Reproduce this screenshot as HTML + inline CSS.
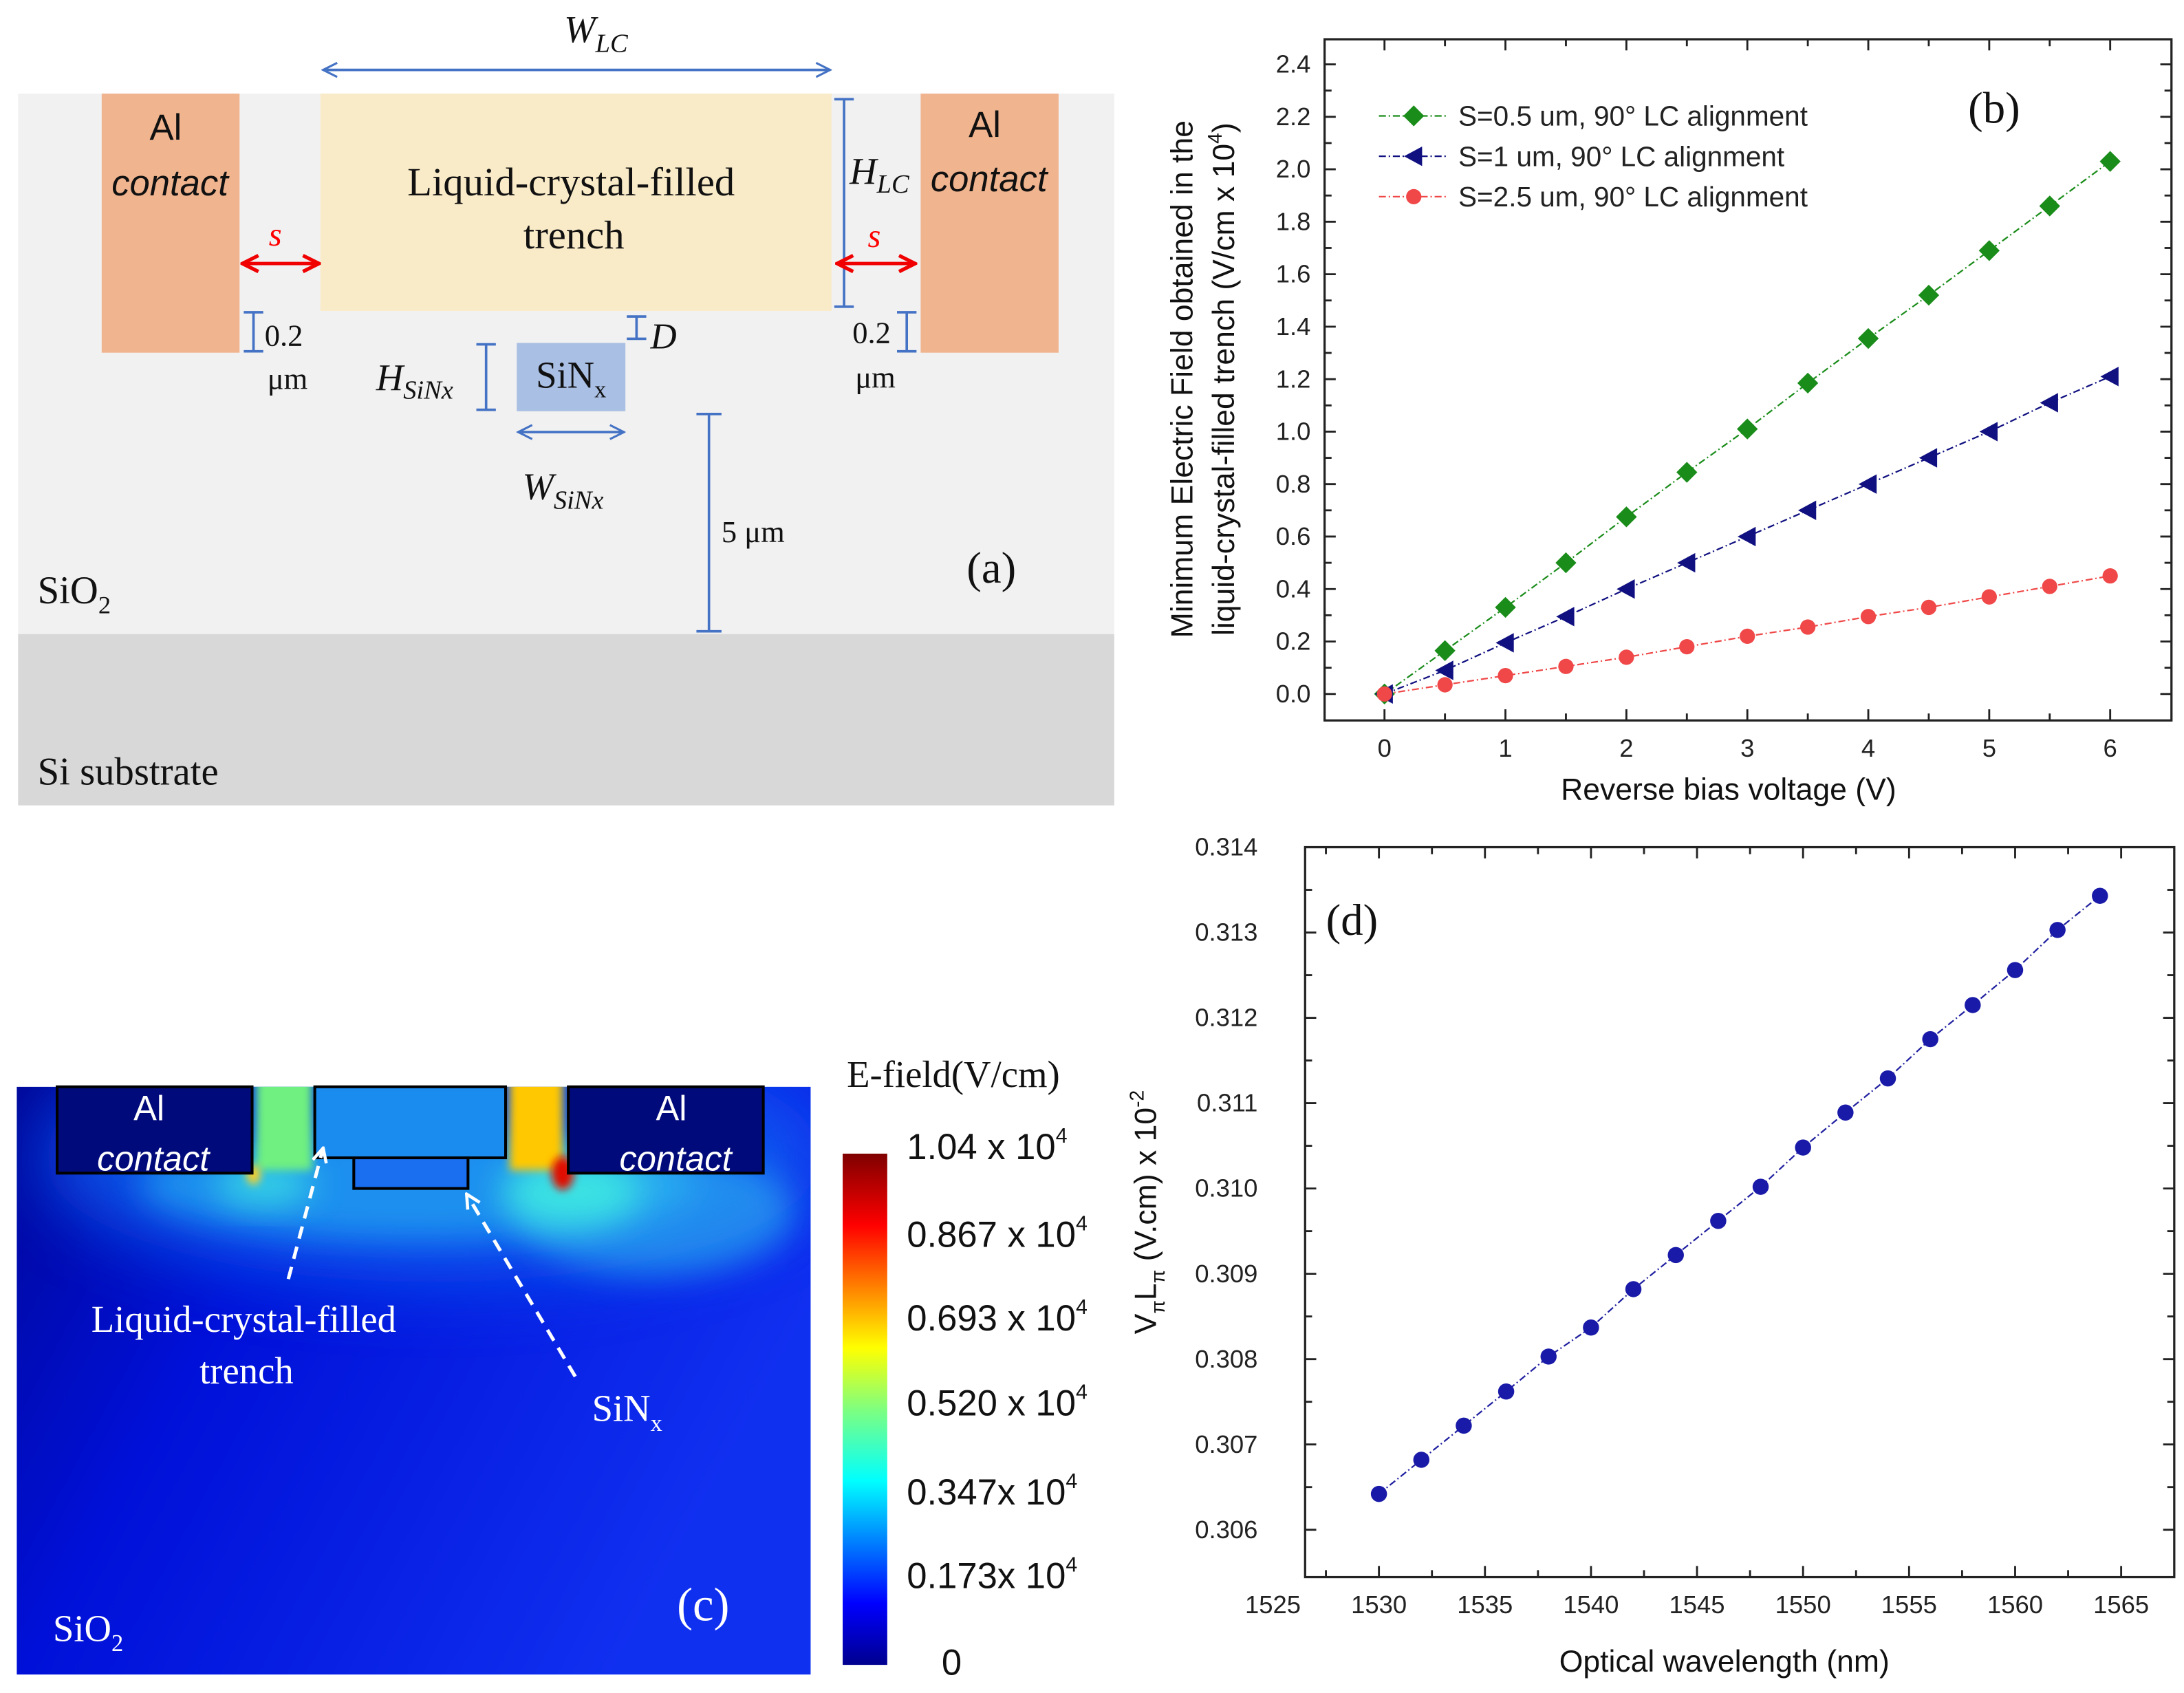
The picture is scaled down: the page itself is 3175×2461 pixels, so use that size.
<!DOCTYPE html>
<html><head><meta charset="utf-8"><style>html,body{margin:0;padding:0;background:#fff}svg{display:block}</style></head>
<body>
<svg id="root" width="3175" height="2461" viewBox="0 0 1568 1215" xmlns="http://www.w3.org/2000/svg" font-family="Liberation Sans, sans-serif">
<defs>
<marker id="ab" viewBox="0 0 10 10" refX="9" refY="5" markerWidth="7" markerHeight="7" orient="auto-start-reverse"><path d="M1,1 L9,5 L1,9" fill="none" stroke="#4472c4" stroke-width="1.2"/></marker>
<marker id="ar" viewBox="0 0 10 10" refX="9" refY="5" markerWidth="6" markerHeight="6" orient="auto-start-reverse"><path d="M1,1 L9,5 L1,9" fill="none" stroke="#f00000" stroke-width="1.8"/></marker>
<marker id="aw" viewBox="0 0 10 10" refX="9" refY="5" markerWidth="5" markerHeight="5" orient="auto"><path d="M1,1 L9,5 L1,9" fill="none" stroke="#fff" stroke-width="1.8"/></marker>
<linearGradient id="cbar" x1="0" y1="1" x2="0" y2="0">
<stop offset="0" stop-color="#00008f"/><stop offset="0.12" stop-color="#0000ff"/><stop offset="0.36" stop-color="#00ffff"/><stop offset="0.5" stop-color="#7fff7f"/><stop offset="0.62" stop-color="#ffff00"/><stop offset="0.86" stop-color="#ff0000"/><stop offset="1" stop-color="#7f0000"/></linearGradient>
<linearGradient id="hbg" x1="0" y1="0" x2="1" y2="0.4"><stop offset="0" stop-color="#00089a"/><stop offset="0.35" stop-color="#0010d8"/><stop offset="1" stop-color="#1030f0"/></linearGradient>
<clipPath id="cclip"><rect x="12" y="780" width="570" height="422"/></clipPath>
<filter id="blurL" x="-50%" y="-50%" width="200%" height="200%"><feGaussianBlur stdDeviation="25"/></filter>
<filter id="blur" x="-50%" y="-50%" width="200%" height="200%"><feGaussianBlur stdDeviation="12"/></filter>
<filter id="blur2" x="-50%" y="-50%" width="200%" height="200%"><feGaussianBlur stdDeviation="3"/></filter>
</defs>

<!-- Panel a -->
<g>
<rect x="13" y="67" width="787" height="388" fill="#f1f1f1"/>
<rect x="13" y="455" width="787" height="123" fill="#d8d8d8"/>
<rect x="73" y="67" width="99" height="186" fill="#f0b48f"/>
<rect x="661" y="67" width="99" height="186" fill="#f0b48f"/>
<rect x="230" y="67" width="367" height="156" fill="#faebc8"/>
<rect x="371" y="246" width="78" height="49" fill="#a9bfe3"/>
<g font-family="Liberation Serif, serif" fill="#111">
<text x="119" y="100" font-family="Liberation Sans, sans-serif" font-size="26" text-anchor="middle">Al</text>
<text x="122" y="140" font-family="Liberation Sans, sans-serif" font-size="26" font-style="italic" text-anchor="middle">contact</text>
<text x="707" y="98" font-family="Liberation Sans, sans-serif" font-size="26" text-anchor="middle">Al</text>
<text x="710" y="137" font-family="Liberation Sans, sans-serif" font-size="26" font-style="italic" text-anchor="middle">contact</text>
<text x="410" y="140" font-size="29" text-anchor="middle">Liquid-crystal-filled</text>
<text x="412" y="178" font-size="29" text-anchor="middle">trench</text>
<text x="410" y="278" font-size="27" text-anchor="middle">SiN<tspan font-size="17" dy="7">x</tspan></text>
<text x="405" y="30" font-size="27" font-style="italic">W<tspan font-size="19" dy="7">LC</tspan></text>
<text x="610" y="132" font-size="27" font-style="italic">H<tspan font-size="19" dy="6">LC</tspan></text>
<text x="270" y="280" font-size="27" font-style="italic">H<tspan font-size="19" dy="6">SiNx</tspan></text>
<text x="375" y="358" font-size="27" font-style="italic">W<tspan font-size="19" dy="7">SiNx</tspan></text>
<text x="467" y="250" font-size="26" font-style="italic">D</text>
<text x="190" y="248" font-size="22">0.2</text><text x="192" y="279" font-size="22">μm</text>
<text x="612" y="246" font-size="22">0.2</text><text x="614" y="278" font-size="22">μm</text>
<text x="518" y="389" font-size="22">5 μm</text>
<text x="694" y="418" font-size="32">(a)</text>
<text x="27" y="433" font-size="28">SiO<tspan font-size="18" dy="7">2</tspan></text>
<text x="27" y="563" font-size="28">Si substrate</text>
<text x="193" y="176" font-size="24" font-style="italic" fill="#f00">s</text>
<text x="623" y="177" font-size="24" font-style="italic" fill="#f00">s</text>
</g>
<g stroke="#4472c4" stroke-width="1.8" fill="none">
<line x1="232" y1="50" x2="596" y2="50" marker-start="url(#ab)" marker-end="url(#ab)"/>
<line x1="606" y1="71" x2="606" y2="220"/><line x1="599" y1="71" x2="613" y2="71"/><line x1="599" y1="220" x2="613" y2="220"/>
<line x1="372" y1="310" x2="448" y2="310" marker-start="url(#ab)" marker-end="url(#ab)"/>
<line x1="349" y1="247" x2="349" y2="294"/><line x1="342" y1="247" x2="356" y2="247"/><line x1="342" y1="294" x2="356" y2="294"/>
<line x1="457" y1="227" x2="457" y2="243"/><line x1="450" y1="227" x2="464" y2="227"/><line x1="450" y1="243" x2="464" y2="243"/>
<line x1="182" y1="224" x2="182" y2="252"/><line x1="175" y1="224" x2="189" y2="224"/><line x1="175" y1="252" x2="189" y2="252"/>
<line x1="651" y1="224" x2="651" y2="252"/><line x1="644" y1="224" x2="658" y2="224"/><line x1="644" y1="252" x2="658" y2="252"/>
<line x1="509" y1="297" x2="509" y2="453"/><line x1="500" y1="297" x2="518" y2="297"/><line x1="500" y1="453" x2="518" y2="453"/>
</g>
<g stroke="#f00000" stroke-width="2.4">
<line x1="174" y1="189" x2="229" y2="189" marker-start="url(#ar)" marker-end="url(#ar)"/>
<line x1="601" y1="189" x2="657" y2="189" marker-start="url(#ar)" marker-end="url(#ar)"/>
</g>
</g>

<!-- Panel c -->
<g>
<g clip-path="url(#cclip)">
<rect x="12" y="780" width="570" height="422" fill="url(#hbg)"/>
<ellipse cx="310" cy="830" rx="280" ry="90" fill="#1060f0" opacity="0.8" filter="url(#blurL)"/>
<ellipse cx="300" cy="850" rx="200" ry="40" fill="#20a0f0" opacity="0.8" filter="url(#blur)"/>
<ellipse cx="470" cy="870" rx="100" ry="45" fill="#30c0f0" opacity="0.55" filter="url(#blur)"/>
<ellipse cx="410" cy="855" rx="50" ry="25" fill="#40f0e0" opacity="0.8" filter="url(#blur)"/>
<ellipse cx="190" cy="850" rx="35" ry="15" fill="#40f0e0" opacity="0.7" filter="url(#blur)"/>
<rect x="184" y="770" width="40" height="70" fill="#70f080" filter="url(#blur2)"/>
<rect x="366" y="770" width="38" height="70" fill="#ffc800" filter="url(#blur2)"/>
<ellipse cx="404" cy="842" rx="8" ry="12" fill="#e01000" filter="url(#blur2)"/>
<ellipse cx="182" cy="843" rx="5" ry="7" fill="#ffd020" filter="url(#blur2)"/>
</g>
<rect x="41" y="780" width="140" height="62" fill="#000a7a" stroke="#000" stroke-width="2"/>
<rect x="408" y="780" width="140" height="62" fill="#000a7a" stroke="#000" stroke-width="2"/>
<rect x="226" y="780" width="137" height="51" fill="#1a8cf0" stroke="#000" stroke-width="2"/>
<rect x="254" y="831" width="82" height="22" fill="#1a6ef0" stroke="#000" stroke-width="2"/>
<g fill="#fff">
<text x="107" y="804" font-size="25" text-anchor="middle">Al</text>
<text x="110" y="840" font-size="25" font-style="italic" text-anchor="middle">contact</text>
<text x="482" y="804" font-size="25" text-anchor="middle">Al</text>
<text x="485" y="840" font-size="25" font-style="italic" text-anchor="middle">contact</text>
<g font-family="Liberation Serif, serif">
<text x="175" y="956" font-size="27" text-anchor="middle">Liquid-crystal-filled</text>
<text x="177" y="993" font-size="27" text-anchor="middle">trench</text>
<text x="425" y="1020" font-size="27">SiN<tspan font-size="17" dy="7">x</tspan></text>
<text x="38" y="1178" font-size="27">SiO<tspan font-size="17" dy="7">2</tspan></text>
<text x="486" y="1163" font-size="34">(c)</text>
</g></g>
<g stroke="#fff" stroke-width="2.5" stroke-dasharray="9,6" fill="none">
<line x1="207" y1="918" x2="232" y2="824" marker-end="url(#aw)"/>
<line x1="413" y1="988" x2="335" y2="857" marker-end="url(#aw)"/>
</g>
<rect x="605" y="828" width="32" height="367" fill="url(#cbar)"/>
<g font-size="26" fill="#111">
<text x="608" y="780" font-family="Liberation Serif, serif" font-size="27">E-field(V/cm)</text>
<text x="651" y="832">1.04 x 10<tspan font-size="15" dy="-12">4</tspan></text>
<text x="651" y="895">0.867 x 10<tspan font-size="15" dy="-12">4</tspan></text>
<text x="651" y="955">0.693 x 10<tspan font-size="15" dy="-12">4</tspan></text>
<text x="651" y="1016">0.520 x 10<tspan font-size="15" dy="-12">4</tspan></text>
<text x="651" y="1080">0.347x 10<tspan font-size="15" dy="-12">4</tspan></text>
<text x="651" y="1140">0.173x 10<tspan font-size="15" dy="-12">4</tspan></text>
<text x="676" y="1202">0</text>
</g>
</g>

<g id="chartB"></g>
<g id="chartD"></g>
</svg>
<script>
const bVoltages = [0,0.5,1,1.5,2,2.5,3,3.5,4,4.5,5,5.5,6];
const bS05 = [0,0.165,0.33,0.5,0.675,0.845,1.01,1.185,1.355,1.52,1.69,1.86,2.03];
const bS1 = [0,0.09,0.195,0.295,0.4,0.5,0.6,0.7,0.8,0.9,1.0,1.11,1.21];
const bS25 = [0,0.035,0.07,0.105,0.14,0.18,0.22,0.255,0.295,0.33,0.37,0.41,0.45];
const bXTicks = [0,1,2,3,4,5,6];
const bYTicks = [0,0.2,0.4,0.6,0.8,1.0,1.2,1.4,1.6,1.8,2.0,2.2,2.4];
const dWavelengths = [1530,1532,1534,1536,1538,1540,1542,1544,1546,1548,1550,1552,1554,1556,1558,1560,1562,1564];
const dVpiLpi = [0.30642,0.30682,0.30722,0.30762,0.30803,0.30837,0.30882,0.30922,0.30962,0.31002,0.31048,0.31089,0.31129,0.31175,0.31215,0.31256,0.31303,0.31343];
const dXTicks = [1525,1530,1535,1540,1545,1550,1555,1560,1565];
const dYTicks = [0.306,0.307,0.308,0.309,0.310,0.311,0.312,0.313,0.314];

const NS='http://www.w3.org/2000/svg';
function mk(parent,tag,attrs,txt){const e=document.createElementNS(NS,tag);for(const k in attrs)e.setAttribute(k,attrs[k]);if(txt!==undefined)e.textContent=txt;parent.appendChild(e);return e;}

// Panel b
(function(){
const g=document.getElementById('chartB');
const L=951,R=1559,T=28,B=517;
const xs=v=>994+v*(1515-994)/6;
const ys=v=>498-v*(498-46)/2.4;
const frame=mk(g,'rect',{x:L,y:T,width:R-L,height:B-T,fill:'none',stroke:'#222','stroke-width':1.6});


for(let v=0;v<=6;v+=0.5){const x=xs(v);const len=Number.isInteger(v)?8:5;
mk(g,'line',{x1:x,y1:B,x2:x,y2:B-len,stroke:'#222','stroke-width':1.4});
mk(g,'line',{x1:x,y1:T,x2:x,y2:T+len,stroke:'#222','stroke-width':1.4});}
for(let i=0;i<=24;i++){const v=i*0.1;const y=ys(v);const len=i%2==0?8:5;
mk(g,'line',{x1:L,y1:y,x2:L+len,y2:y,stroke:'#222','stroke-width':1.4});
mk(g,'line',{x1:R,y1:y,x2:R-len,y2:y,stroke:'#222','stroke-width':1.4});}
bXTicks.forEach(v=>{const t=mk(g,'text',{x:xs(v),y:B+26,'font-size':18,'text-anchor':'middle',fill:'#222'},String(v));

});
bYTicks.forEach(v=>{const t=mk(g,'text',{x:L-10,y:ys(v)+6,'font-size':18,'text-anchor':'end',fill:'#222'},v.toFixed(1));

});
const xt=mk(g,'text',{x:1241,y:574,'font-size':22,'text-anchor':'middle',fill:'#111'},'Reverse bias voltage (V)');


const yt=mk(g,'text',{transform:'translate(856,272) rotate(-90)','font-size':22,'text-anchor':'middle',fill:'#111'});


mk(yt,'tspan',{x:0,y:0},'Minimum Electric Field obtained in the');
mk(yt,'tspan',{x:0,y:30},'liquid-crystal-filled trench (V/cm x 10');
mk(yt,'tspan',{'font-size':14,dy:-9},'4');
mk(yt,'tspan',{dy:9},')');
const pl=mk(g,'text',{x:1413,y:88,'font-size':32,'font-family':'Liberation Serif, serif',fill:'#111'},'(b)');


const series=[{d:bS05,c:'#1a8c1a',m:'diamond',lab:'S=0.5 um, 90° LC alignment',n:'series-s0.5'},
{d:bS1,c:'#101080',m:'tri',lab:'S=1 um, 90° LC alignment',n:'series-s1'},
{d:bS25,c:'#f04848',m:'circle',lab:'S=2.5 um, 90° LC alignment',n:'series-s2.5'}];
function marker(p,m,x,y,c){
if(m==='diamond')return mk(p,'path',{d:`M${x},${y-7.5} L${x+7.5},${y} L${x},${y+7.5} L${x-7.5},${y} Z`,fill:c});
if(m==='tri')return mk(p,'path',{d:`M${x-7},${y} L${x+6},${y-7} L${x+6},${y+7} Z`,fill:c});
return mk(p,'circle',{cx:x,cy:y,r:5.5,fill:c});}
series.forEach((s,si)=>{
const sg=mk(g,'g',{});


const pts=bVoltages.map((v,i)=>xs(v)+','+ys(s.d[i])).join(' ');
mk(sg,'polyline',{points:pts,fill:'none',stroke:s.c,'stroke-width':1.1,'stroke-dasharray':'5,2,1,2'});
bVoltages.forEach((v,i)=>{const mm=marker(sg,s.m,xs(v),ys(s.d[i]),s.c);

});
const ly=83+si*29;
const lg=mk(g,'g',{});


mk(lg,'line',{x1:990,y1:ly,x2:1040,y2:ly,stroke:s.c,'stroke-width':1.1,'stroke-dasharray':'5,2,1,2'});
marker(lg,s.m,1015,ly,s.c);
mk(lg,'text',{x:1047,y:ly+7,'font-size':20,fill:'#222'},s.lab);
});
})();

// Panel d
(function(){
const g=document.getElementById('chartD');
const L=937,R=1561,T=608,B=1132;
const xs=v=>990+(v-1530)*(1524-915)/40;
const ys=v=>1098-(v-0.306)*(1098-608)/0.008;
const frame=mk(g,'rect',{x:L,y:T,width:R-L,height:B-T,fill:'none',stroke:'#222','stroke-width':1.6});


for(let v=1525;v<=1565;v+=2.5){const x=xs(v);if(x<L||x>R)continue;const len=(v%5==0)?8:5;
mk(g,'line',{x1:x,y1:B,x2:x,y2:B-len,stroke:'#222','stroke-width':1.4});
mk(g,'line',{x1:x,y1:T,x2:x,y2:T+len,stroke:'#222','stroke-width':1.4});}
for(let i=0;i<=16;i++){const v=0.306+i*0.0005;const y=ys(v);if(y<T-1||y>B)continue;const len=i%2==0?8:5;
mk(g,'line',{x1:L,y1:y,x2:L+len,y2:y,stroke:'#222','stroke-width':1.4});
mk(g,'line',{x1:R,y1:y,x2:R-len,y2:y,stroke:'#222','stroke-width':1.4});}
dXTicks.forEach(v=>{const t=mk(g,'text',{x:xs(v),y:B+26,'font-size':18,'text-anchor':'middle',fill:'#222'},String(v));

});
dYTicks.forEach(v=>{const t=mk(g,'text',{x:L-34,y:ys(v)+6,'font-size':18,'text-anchor':'end',fill:'#222'},v.toFixed(3));

});
const xt=mk(g,'text',{x:1238,y:1200,'font-size':22,'text-anchor':'middle',fill:'#111'},'Optical wavelength (nm)');


const yt=mk(g,'text',{transform:'translate(830,870) rotate(-90)','font-size':22,'text-anchor':'middle',fill:'#111'});


mk(yt,'tspan',{},'V');mk(yt,'tspan',{'font-size':14,dy:6},'π');mk(yt,'tspan',{dy:-6},'L');mk(yt,'tspan',{'font-size':14,dy:6},'π');
mk(yt,'tspan',{dy:-6},' (V.cm) x 10');mk(yt,'tspan',{'font-size':14,dy:-9},'-2');
const pl=mk(g,'text',{x:952,y:671,'font-size':32,'font-family':'Liberation Serif, serif',fill:'#111'},'(d)');


const sg=mk(g,'g',{});


mk(sg,'polyline',{points:dWavelengths.map((v,i)=>xs(v)+','+ys(dVpiLpi[i])).join(' '),fill:'none',stroke:'#2020a0','stroke-width':1.1,'stroke-dasharray':'5,2,1,2'});
dWavelengths.forEach((v,i)=>{const c=mk(sg,'circle',{cx:xs(v),cy:ys(dVpiLpi[i]),r:5.8,fill:'#1a1aa8'});

});
})();
</script>
</body></html>
